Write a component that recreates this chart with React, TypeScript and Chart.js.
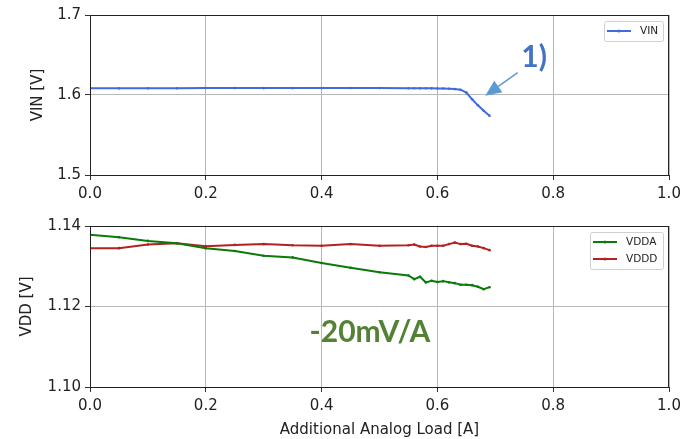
import React, { useEffect, useRef } from "react";
import { Chart, registerables } from "chart.js";
Chart.register(...registerables);

// ---- data ----
const loadA = [0, 0.05, 0.1, 0.15, 0.2, 0.25, 0.3, 0.35, 0.4, 0.45, 0.5, 0.55, 0.56, 0.57, 0.58, 0.59, 0.6, 0.61, 0.62, 0.63, 0.64, 0.65, 0.66, 0.67, 0.68, 0.69];
const vin = [1.6083, 1.6083, 1.6084, 1.6085, 1.6087, 1.6087, 1.6086, 1.6086, 1.6086, 1.6087, 1.6087, 1.6085, 1.6085, 1.6084, 1.6084, 1.6083, 1.6082, 1.6081, 1.6078, 1.6074, 1.6066, 1.6030, 1.5946, 1.5871, 1.5804, 1.5741];
const vdda = [1.1378, 1.1372, 1.1363, 1.1357, 1.1345, 1.1338, 1.1326, 1.1322, 1.1308, 1.1296, 1.1285, 1.1277, 1.1268, 1.1274, 1.1260, 1.1264, 1.1261, 1.1263, 1.1260, 1.1258, 1.1254, 1.1254, 1.1253, 1.1249, 1.1243, 1.1248];
const vddd = [1.1345, 1.1345, 1.1354, 1.1357, 1.1350, 1.1353, 1.1355, 1.1352, 1.1351, 1.1355, 1.1351, 1.1352, 1.1354, 1.1349, 1.1348, 1.1351, 1.1351, 1.1351, 1.1355, 1.1359, 1.1355, 1.1356, 1.1351, 1.1349, 1.1345, 1.1340];

const xLabel = "Additional Analog Load [A]";
const vinLabel = "VIN [V]";
const vddLabel = "VDD [V]";
const vinSeries = "VIN";
const vddaSeries = "VDDA";
const vdddSeries = "VDDD";
const noteTop = "1)";
const noteBottom = "-20mV/A";

const FONT = "'DejaVu Sans', sans-serif";
const BLUE = "#4169e1";
const GREEN = "#0a7a0a";
const RED = "#b22222";

const pts = (ys: number[]) => ys.map((y, i) => ({ x: loadA[i], y }));

const frame = {
  id: "frame",
  afterDatasetsDraw(chart: any) {
    const { ctx, chartArea: a } = chart;
    ctx.save();
    ctx.strokeStyle = "#222";
    ctx.lineWidth = 1;
    ctx.strokeRect(Math.round(a.left) + 0.5, Math.round(a.top) + 0.5, Math.round(a.right - a.left) - 1, Math.round(a.bottom - a.top));
    ctx.restore();
  },
};

function legendPlugin(items: { label: string; color: string }[], width: number, insetR: number, insetT: number) {
  return {
    id: "mylegend",
    afterDraw(chart: any) {
      const { ctx, chartArea: a } = chart;
      const h = items.length * 17 + 3;
      const x0 = a.right - insetR - width;
      const y0 = a.top + insetT;
      ctx.save();
      ctx.fillStyle = "rgba(255,255,255,0.85)";
      ctx.strokeStyle = "#d0d0d0";
      ctx.lineWidth = 1;
      ctx.beginPath();
      (ctx as any).roundRect(x0 + 0.5, y0 + 0.5, width, h, 2);
      ctx.fill();
      ctx.stroke();
      items.forEach((it, i) => {
        const cy = y0 + 10 + i * 17;
        ctx.strokeStyle = it.color;
        ctx.lineWidth = 2;
        ctx.beginPath();
        ctx.moveTo(x0 + 3, cy);
        ctx.lineTo(x0 + 27, cy);
        ctx.stroke();
        ctx.fillStyle = it.color;
        ctx.beginPath();
        ctx.arc(x0 + 15, cy, 1.5, 0, Math.PI * 2);
        ctx.fill();
        ctx.fillStyle = "#222";
        ctx.font = `10.5px ${FONT}`;
        ctx.textBaseline = "middle";
        ctx.textAlign = "left";
        ctx.fillText(it.label, x0 + 36, cy + 0.5);
      });
      ctx.restore();
    },
  };
}

const topNote = {
  id: "topnote",
  afterDraw(chart: any) {
    const { ctx, scales } = chart;
    const xs = scales.x, ys = scales.y;
    ctx.save();
    ctx.fillStyle = "#4472c4";
    ctx.font = `bold 30px Lato, 'Open Sans', sans-serif`;
    ctx.textAlign = "center";
    ctx.textBaseline = "middle";
    ctx.fillText(noteTop, xs.getPixelForValue(0.767), ys.getPixelForValue(1.6475));
    // arrow
    const x1 = xs.getPixelForValue(0.7387), y1 = ys.getPixelForValue(1.6279);
    const x2 = xs.getPixelForValue(0.6827), y2 = ys.getPixelForValue(1.5991);
    const ang = Math.atan2(y2 - y1, x2 - x1);
    const hl = 16, hw = 7;
    const bx = x2 - hl * Math.cos(ang), by = y2 - hl * Math.sin(ang);
    ctx.strokeStyle = "#5b9bd5";
    ctx.fillStyle = "#5b9bd5";
    ctx.lineWidth = 1.5;
    ctx.beginPath();
    ctx.moveTo(x1, y1);
    ctx.lineTo(bx, by);
    ctx.stroke();
    ctx.beginPath();
    ctx.moveTo(x2, y2);
    ctx.lineTo(bx + hw * Math.sin(ang), by - hw * Math.cos(ang));
    ctx.lineTo(bx - hw * Math.sin(ang), by + hw * Math.cos(ang));
    ctx.closePath();
    ctx.fill();
    ctx.restore();
  },
};

const bottomNote = {
  id: "bottomnote",
  afterDraw(chart: any) {
    const { ctx, scales } = chart;
    ctx.save();
    ctx.fillStyle = "#548235";
    ctx.font = `bold 30px Lato, 'Open Sans', sans-serif`;
    ctx.textAlign = "center";
    ctx.textBaseline = "middle";
    ctx.fillText(noteBottom, scales.x.getPixelForValue(0.4836), scales.y.getPixelForValue(1.1137));
    ctx.restore();
  },
};

function xScale(height: number, title?: string) {
  return {
    type: "linear",
    min: 0,
    max: 1,
    ticks: { stepSize: 0.2, callback: (v: any) => Number(v).toFixed(1), font: { family: FONT, size: 15 }, color: "#222", padding: 5, maxRotation: 0 },
    grid: { color: "#b8b8b8", lineWidth: 1, tickLength: 5, tickColor: "#333", drawTicks: true },
    border: { display: false },
    title: title
      ? { display: true, text: title, font: { family: FONT, size: 15 }, color: "#222", padding: { top: 0, bottom: 0 } }
      : { display: false },
    afterFit: (s: any) => { s.height = height; },
  };
}

function yScale(min: number, max: number, step: number, dec: number, title: string, tpad: number) {
  return {
    type: "linear",
    min,
    max,
    ticks: { stepSize: step, callback: (v: any) => Number(v).toFixed(dec), font: { family: FONT, size: 15 }, color: "#222", padding: 4 },
    grid: { color: "#b8b8b8", lineWidth: 1, tickLength: 5, tickColor: "#333", drawTicks: true },
    border: { display: false },
    title: { display: true, text: title, font: { family: FONT, size: 15 }, color: "#222", padding: { top: tpad, bottom: 0 } },
    afterFit: (s: any) => { s.width = 90; },
  };
}

function ds(label: string, ys: number[], color: string) {
  return {
    label,
    data: pts(ys),
    borderColor: color,
    backgroundColor: color,
    borderWidth: 2,
    pointRadius: 1.3,
    pointBorderWidth: 0,
    pointBackgroundColor: color,
    tension: 0,
    showLine: true,
  };
}

export default function App() {
  const c1 = useRef<HTMLCanvasElement>(null);
  const c2 = useRef<HTMLCanvasElement>(null);
  useEffect(() => {
    const common = {
      responsive: false,
      maintainAspectRatio: false,
      animation: false,
      devicePixelRatio: 1,
      events: [],
    };
    const ch1 = new Chart(c1.current!, {
      type: "scatter",
      data: { datasets: [ds(vinSeries, vin, BLUE)] as any },
      options: {
        ...common,
        layout: { padding: { top: 15, right: 21, left: 0, bottom: 0 } },
        plugins: { legend: { display: false }, tooltip: { enabled: false } },
        scales: { x: xScale(25) as any, y: yScale(1.5, 1.7, 0.1, 1, vinLabel, 29.5) as any },
      } as any,
      plugins: [frame, legendPlugin([{ label: vinSeries, color: BLUE }], 59, 6, 6), topNote],
    });
    const ch2 = new Chart(c2.current!, {
      type: "scatter",
      data: { datasets: [ds(vddaSeries, vdda, GREEN), ds(vdddSeries, vddd, RED)] as any },
      options: {
        ...common,
        layout: { padding: { top: 26, right: 21, left: 0, bottom: 0 } },
        plugins: { legend: { display: false }, tooltip: { enabled: false } },
        scales: { x: xScale(52, xLabel) as any, y: yScale(1.1, 1.14, 0.02, 2, vddLabel, 18) as any },
      } as any,
      plugins: [frame, legendPlugin([{ label: vddaSeries, color: GREEN }, { label: vdddSeries, color: RED }], 73, 6, 6), bottomNote],
    });
    return () => { ch1.destroy(); ch2.destroy(); };
  }, []);
  return (
    <div style={{ position: "absolute", left: 0, top: 0, width: 690, height: 439, background: "#fff" }}>
      <canvas ref={c1} width={690} height={200} style={{ position: "absolute", left: 0, top: 0, width: 690, height: 200 }} />
      <canvas ref={c2} width={690} height={239} style={{ position: "absolute", left: 0, top: 200, width: 690, height: 239 }} />
    </div>
  );
}
